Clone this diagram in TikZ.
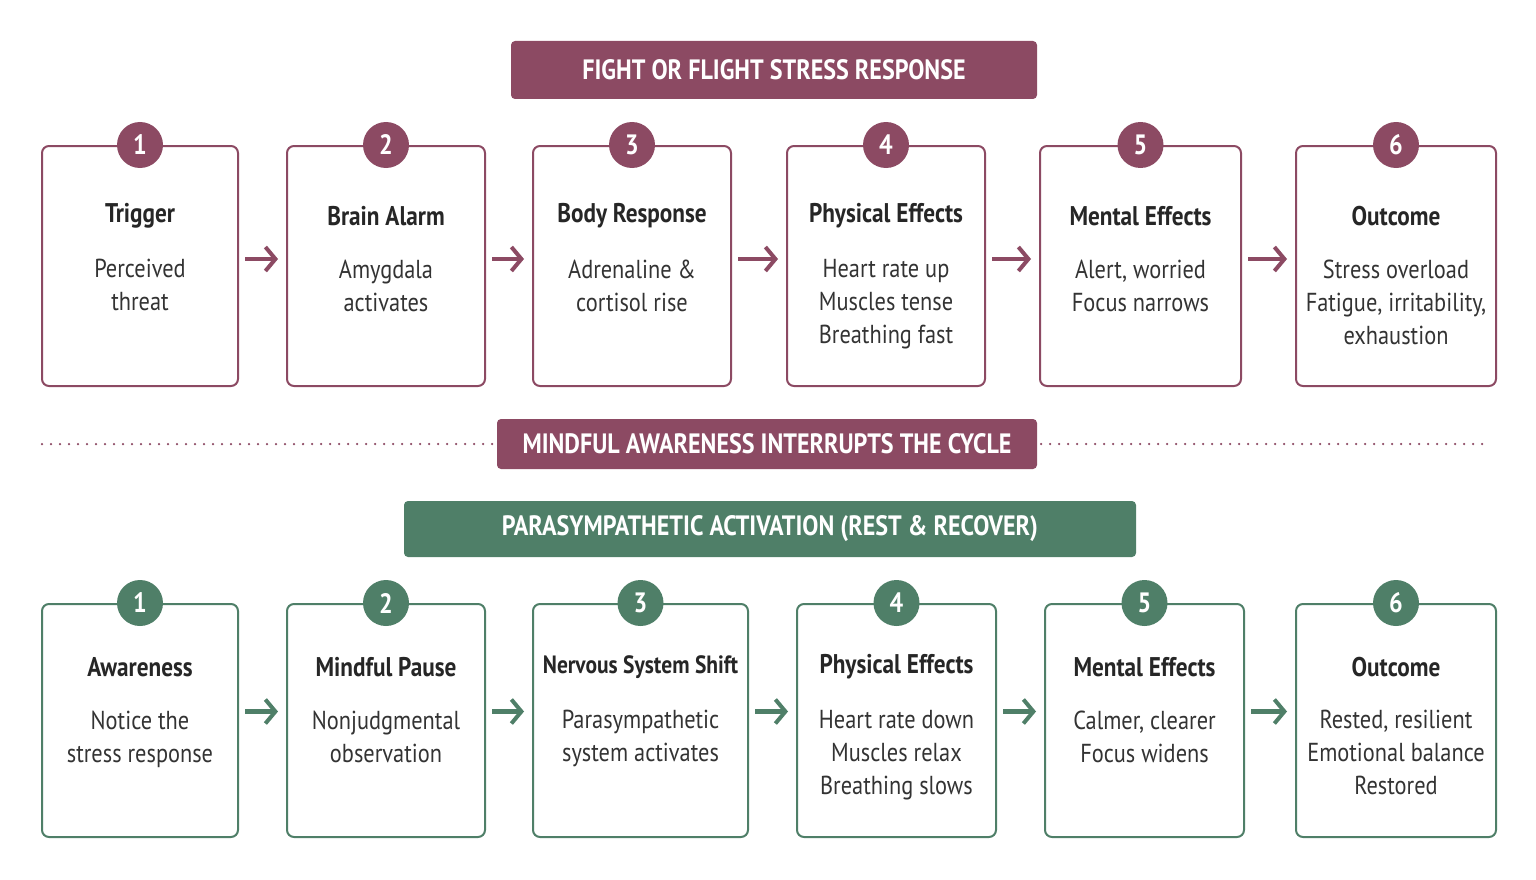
\documentclass[tikz,border=0pt]{standalone}
\usepackage{fontspec}
\setmainfont{PT Sans}[FakeStretch=0.86]
\usetikzlibrary{arrows.meta, positioning, calc}
\definecolor{stress}{RGB}{140, 74, 99}
\definecolor{calm}{RGB}{79, 127, 104}
\tikzset{
  step/.style={draw=#1, line width=2pt, rounded corners=7pt, fill=white, anchor=north west},
  badge/.style={circle, fill=#1, text=white, minimum size=46pt, inner sep=0pt, font=\bfseries\fontsize{28}{30}\selectfont},
  banner/.style={fill=#1, rounded corners=4pt, text=white, font=\bfseries\fontsize{28}{30}\selectfont, inner sep=0pt},
  head/.style={font=\bfseries\fontsize{27}{30}\selectfont, text=black!85},
  body/.style={align=center, font=\fontsize{26}{33}\selectfont, text=black!80},
  flow/.style={-{Straight Barb[length=10pt,width=24pt,line width=4pt]}, line width=4.5pt, draw=#1}
}
\begin{document}
\begin{tikzpicture}[x=1pt, y=-1pt]
    \useasboundingbox (0,0) rectangle (1536,880);

    % banners
    \node[banner=stress, minimum width=526pt, minimum height=58pt] (toptitle) at (774,70) {FIGHT OR FLIGHT STRESS RESPONSE};
    \draw[stress, line width=2.5pt, line cap=round, dash pattern=on 0pt off 9pt] (42,444) -- (1490,444);
    \node[banner=stress, minimum width=540pt, minimum height=50pt] (midtitle) at (767,444) {MINDFUL AWARENESS INTERRUPTS THE CYCLE};
    \node[banner=calm, minimum width=732pt, minimum height=56pt] (bottitle) at (770,529) {PARASYMPATHETIC ACTIVATION (REST \& RECOVER)};

    % stress row
    \foreach \i/\x/\w/\hd/\bd in {
        1/41/196/Trigger/{Perceived\\threat},
        2/286/198/Brain Alarm/{Amygdala\\activates},
        3/532/198/Body Response/{Adrenaline \&\\cortisol rise},
        4/786/198/Physical Effects/{Heart rate up\\Muscles tense\\Breathing fast},
        5/1039/201/Mental Effects/{Alert, worried\\Focus narrows},
        6/1295/200/Outcome/{Stress overload\\Fatigue, irritability,\\exhaustion}} {
        \node[step=stress, minimum width=\w pt, minimum height=240pt] (t\i) at (\x,145) {};
        \node[badge=stress] (tn\i) at (t\i.north) {\i};
        \node[head] (th\i) at ($(t\i.north)+(0,71)$) {\hd};
        \node[body, anchor=north] (tb\i) at ($(t\i.north)+(0,111)$) {\bd};
    }

    % calm row
    \foreach \i/\x/\w/\hd/\bd in {
        1/41/196/Awareness/{Notice the\\stress response},
        2/286/198/Mindful Pause/{Nonjudgmental\\observation},
        3/532/215/{\fontsize{25}{28}\selectfont Nervous System Shift}/{Parasympathetic\\system activates},
        4/796/199/Physical Effects/{Heart rate down\\Muscles relax\\Breathing slows},
        5/1044/199/Mental Effects/{Calmer, clearer\\Focus widens},
        6/1295/200/Outcome/{Rested, resilient\\Emotional balance\\Restored}} {
        \node[step=calm, minimum width=\w pt, minimum height=233pt] (b\i) at (\x,603) {};
        \node[badge=calm] (bn\i) at (b\i.north) {\i};
        \node[head] (bh\i) at ($(b\i.north)+(0,64)$) {\hd};
        \node[body, anchor=north] (bb\i) at ($(b\i.north)+(0,104)$) {\bd};
    }

    % arrows
    \foreach \i [evaluate=\i as \j using int(\i+1)] in {1,...,5} {
        \draw[flow=stress] ($(t\i.east)+(6,-7)$) -- ($(t\j.west)+(-8,-7)$);
        \draw[flow=calm] ($(b\i.east)+(6,-9)$) -- ($(b\j.west)+(-8,-9)$);
    }
\end{tikzpicture}
\end{document}
